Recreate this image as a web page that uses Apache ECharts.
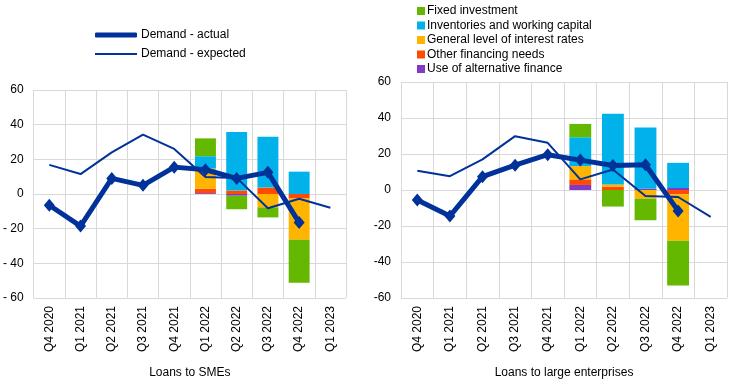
<!DOCTYPE html>
<html><head><meta charset="utf-8">
<script src="https://cdn.jsdelivr.net/npm/echarts@6/dist/echarts.min.js"></script>
<style>html,body{margin:0;padding:0;background:#fff}#c{width:744px;height:384px}</style>
</head><body><div id="c"></div>
<script>
const categories = ['Q4 2020','Q1 2021','Q2 2021','Q3 2021','Q4 2021','Q1 2022','Q2 2022','Q3 2022','Q4 2022','Q1 2023'];
const yTicks = [-60, 60, 20];

// Loans to SMEs
const smeActual   = [-6.5, -18.5, 9, 5, 15.5, 14, 9, 12.5, -16.5, null];
const smeExpected = [16.8, 11.5, 24, 34.3, 26, 9.8, 9.3, -8.2, -2.7, -7.9];
const smeAltFinance = [null, null, null, null, null, 0.5, -1.0, null, null, null];
const smeOtherNeeds = [null, null, null, null, null, 2.6, 2.0, 3.7, -2.6, null];
const smeInterest   = [null, null, null, null, null, 11.6, null, -7.7, -23.8, null];
const smeInventories= [null, null, null, null, null, 7.1, 33.8, 29.4, 12.9, null];
const smeFixed      = [null, null, null, null, null, 10.3, -7.8, -5.8, -24.8, null];

// Loans to large enterprises
const largeActual   = [-5.5, -14.5, 7.4, 13.8, 19.6, 16.6, 13.6, 14.0, -11.6, null];
const largeExpected = [10.7, 7.7, 17.0, 29.9, 26.2, 5.9, 11.4, -3.3, -3.9, -14.9];
const largeAltFinance = [null, null, null, null, null, 2.8, null, 0.7, 1.1, null];
const largeOtherNeeds = [null, null, null, null, null, 3.1, 1.7, null, -2.4, null];
const largeInterest   = [null, null, null, null, null, 7.4, 1.4, -4.8, -25.8, null];
const largeInventories= [null, null, null, null, null, 16.0, 39.3, 34.0, 14.0, null];
const largeFixed      = [null, null, null, null, null, 7.4, -9.2, -12.0, -24.9, null];

const names = {
  fixed: 'Fixed investment', inv: 'Inventories and working capital',
  rate: 'General level of interest rates', other: 'Other financing needs',
  alt: 'Use of alternative finance', act: 'Demand - actual', exp: 'Demand - expected'
};
const colors = {fixed:'#65B800', inv:'#00B1EA', rate:'#FFB400', other:'#FF4B00', alt:'#8139C6', line:'#003299'};
const font = 'Arial, "Liberation Sans", sans-serif';

function makeAxes(idx, negSpace, title) {
  return {
    x: {
      type: 'category', gridIndex: idx, data: categories, boundaryGap: true,
      axisLine: {show: false}, axisTick: {show: false},
      splitLine: {show: true, lineStyle: {color: '#d9d9d9', width: 1}},
      axisLabel: {rotate: 90, margin: 8, fontSize: 12, color: '#000', fontFamily: font, interval: 0},
      name: title, nameLocation: 'middle', nameGap: 69,
      nameTextStyle: {fontSize: 12, color: '#000', fontFamily: font}
    },
    y: {
      type: 'value', gridIndex: idx, min: yTicks[0], max: yTicks[1], interval: yTicks[2],
      axisLine: {show: true, lineStyle: {color: '#d9d9d9'}}, axisTick: {show: false},
      splitLine: {show: true, lineStyle: {color: '#d9d9d9', width: 1}},
      axisLabel: {margin: 10, fontSize: 12, color: '#000', fontFamily: font,
        formatter: v => (v < 0 ? (negSpace ? '- ' : '-') + Math.abs(v) : String(v))}
    }
  };
}
const a0 = makeAxes(0, true, 'Loans to SMEs');
const a1 = makeAxes(1, false, 'Loans to large enterprises');

function barSeries(idx, key, data) {
  return {type: 'bar', name: names[key], xAxisIndex: idx, yAxisIndex: idx, stack: 's' + idx,
    data: data, barWidth: '67%', itemStyle: {color: colors[key]}};
}
function lineSeries(idx, key, data) {
  const act = key === 'act';
  return {type: 'line', name: names[key], xAxisIndex: idx, yAxisIndex: idx, data: data,
    lineStyle: {color: colors.line, width: act ? 5 : 2},
    itemStyle: {color: colors.line},
    symbol: act ? 'diamond' : 'none', symbolSize: act ? [11, 13] : 0,
    showSymbol: act, z: act ? 5 : 4, connectNulls: false};
}

const series = [];
[[0, smeAltFinance, smeOtherNeeds, smeInterest, smeInventories, smeFixed, smeExpected, smeActual],
 [1, largeAltFinance, largeOtherNeeds, largeInterest, largeInventories, largeFixed, largeExpected, largeActual]]
.forEach(([i, alt, other, rate, inv, fixed, exp, act]) => {
  series.push(barSeries(i, 'alt', alt), barSeries(i, 'other', other), barSeries(i, 'rate', rate),
              barSeries(i, 'inv', inv), barSeries(i, 'fixed', fixed),
              lineSeries(i, 'exp', exp), lineSeries(i, 'act', act));
});

const legText = {fontSize: 12, color: '#000', fontFamily: font};
const chart = echarts.init(document.getElementById('c'), null, {renderer: 'canvas'});
chart.setOption({
  animation: false,
  grid: [
    {left: 32, right: 398, top: 90, bottom: 82},
    {left: 401, right: 17, top: 82, bottom: 85}
  ],
  xAxis: [a0.x, a1.x],
  yAxis: [a0.y, a1.y],
  legend: [
    {data: [{name: names.act, icon: 'roundRect'}], orient: 'vertical', left: 95, top: 29, padding: 0,
     itemWidth: 42, itemHeight: 5, selectedMode: false, textStyle: Object.assign({padding: [0,0,0,-1]}, legText)},
    {data: [{name: names.exp, icon: 'rect'}], orient: 'vertical', left: 95, top: 48, padding: 0,
     itemWidth: 42, itemHeight: 2, selectedMode: false, textStyle: Object.assign({padding: [0,0,0,-1]}, legText)},
    {data: [names.fixed, names.inv, names.rate, names.other, names.alt], orient: 'vertical', left: 417, top: 5,
     padding: 0, itemWidth: 8, itemHeight: 8, itemGap: 2.5, icon: 'rect', selectedMode: false,
     textStyle: Object.assign({padding: [0,0,0,-3]}, legText)}
  ],
  series: series
});
</script></body></html>
